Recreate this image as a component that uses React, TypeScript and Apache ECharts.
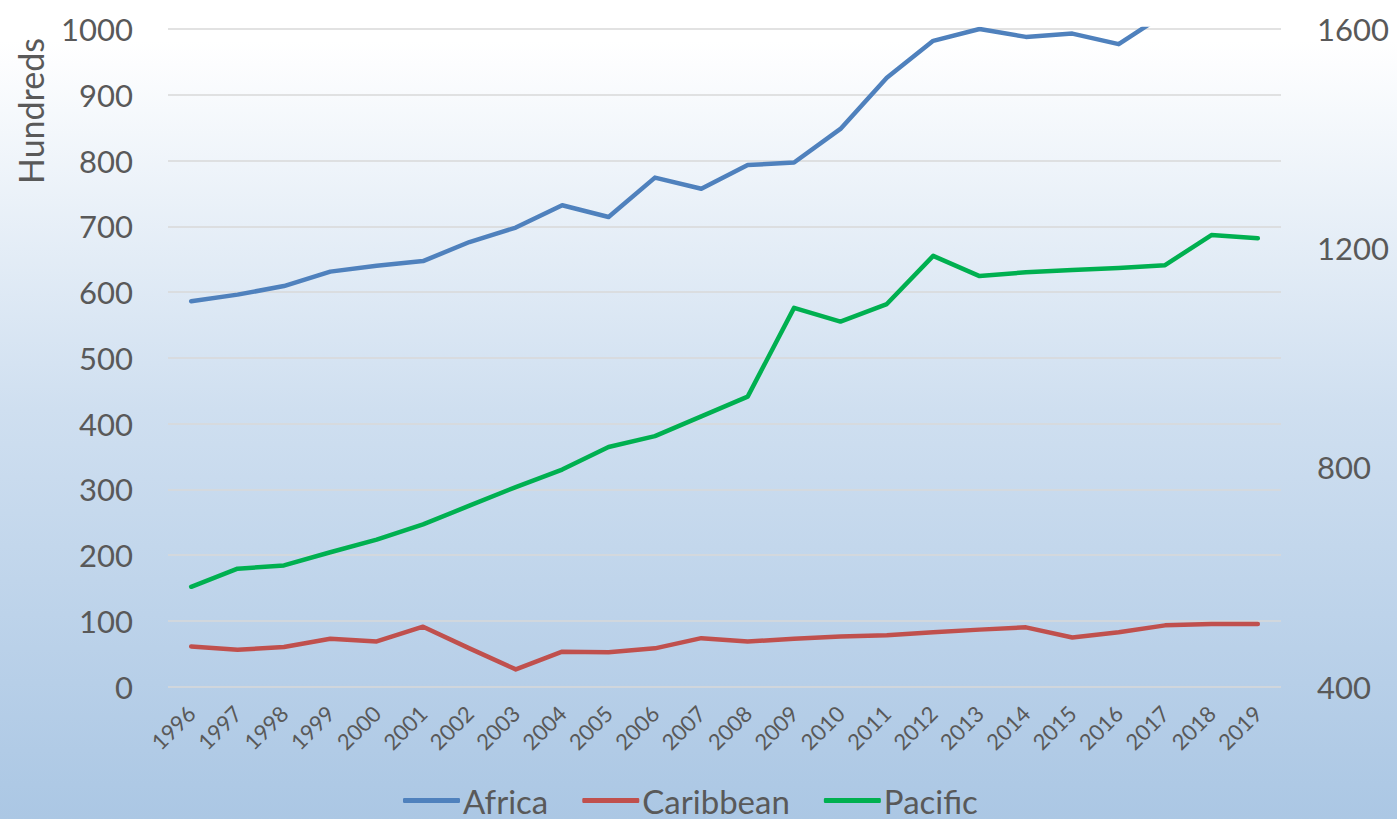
import React, { useEffect, useRef } from "react";
import * as echarts from "echarts";

const years = [
  "1996", "1997", "1998", "1999", "2000", "2001", "2002", "2003", "2004", "2005", "2006", "2007",
  "2008", "2009", "2010", "2011", "2012", "2013", "2014", "2015", "2016", "2017", "2018", "2019",
];

// left axis (Hundreds)
const africa = [586, 596, 609, 631, 640, 647, 676, 698, 732, 714, 774, 757, 793, 797, 848, 926, 982, 1000, 988, 993, 977, 1023, 1050, 1075];
const caribbean = [61, 56, 60, 72.5, 68.5, 91, 58, 26, 53, 52, 58, 73.5, 68.5, 72.5, 76, 78, 82.5, 86.5, 90, 74.5, 82.5, 93, 95, 95];
// right axis
const pacific = [582, 615, 621, 645, 668, 696, 730, 764, 796, 837, 857, 893, 929, 1091, 1066, 1098, 1186, 1149, 1156, 1160, 1164, 1169, 1224, 1218];

const seriesNames = ["Africa", "Caribbean", "Pacific"];
const seriesColors = ["#4f81bd", "#c0504d", "#00b050"];

const FONT = "Lato, 'Open Sans', sans-serif";
const TEXT = "#595959";

export default function App() {
  const ref = useRef<HTMLDivElement>(null);
  useEffect(() => {
    if (!ref.current) return;
    const chart = echarts.init(ref.current, null, { renderer: "svg" });
    const lineStyle = (c: string) => ({ color: c, width: 4.5, cap: "round", join: "round" });
    const plain = (v: number) => String(v);
    chart.setOption({
      animation: false,
      backgroundColor: {
        type: "linear", x: 0, y: 0, x2: 0, y2: 1,
        colorStops: [
          { offset: 0, color: "#ffffff" },
          { offset: 0.05, color: "#ffffff" },
          { offset: 0.5, color: "#cfdff0" },
          { offset: 1, color: "#abc7e4" },
        ],
      },
      textStyle: { fontFamily: FONT },
      grid: { left: 168, top: 29, width: 1113, height: 657.5, containLabel: false },
      legend: {
        data: seriesNames,
        left: 398,
        top: 779,
        icon: "roundRect",
        itemWidth: 57,
        itemHeight: 5,
        itemGap: 34,
        textStyle: { fontFamily: FONT, fontSize: 33, color: TEXT, padding: [0, 0, 0, -2] },
      },
      graphic: [
        {
          type: "text",
          x: 30,
          y: 111,
          rotation: Math.PI / 2,
          style: {
            text: "Hundreds",
            font: `34px ${FONT}`,
            fill: TEXT,
            textAlign: "center",
            textVerticalAlign: "middle",
          },
        },
      ],
      xAxis: {
        type: "category",
        data: years,
        boundaryGap: true,
        axisLine: { show: false },
        axisTick: { show: false },
        axisLabel: { rotate: 45, fontSize: 22, color: TEXT, fontFamily: FONT, margin: 23 },
      },
      yAxis: [
        {
          type: "value",
          min: 0,
          max: 1000,
          interval: 100,
          axisLine: { show: false },
          axisTick: { show: false },
          axisLabel: { fontSize: 31, color: TEXT, fontFamily: FONT, margin: 35, formatter: plain },
          splitLine: { show: true, lineStyle: { color: "#d9d9d9", width: 1.5 } },
        },
        {
          type: "value",
          position: "right",
          min: 400,
          max: 1600,
          interval: 400,
          axisLine: { show: false },
          axisTick: { show: false },
          axisLabel: { fontSize: 31, color: TEXT, fontFamily: FONT, margin: 36, formatter: plain },
          splitLine: { show: false },
        },
      ],
      series: [
        { name: seriesNames[0], type: "line", data: africa, yAxisIndex: 0, symbol: "none", clip: true, color: seriesColors[0], lineStyle: lineStyle(seriesColors[0]) },
        { name: seriesNames[1], type: "line", data: caribbean, yAxisIndex: 0, symbol: "none", clip: true, color: seriesColors[1], lineStyle: lineStyle(seriesColors[1]) },
        { name: seriesNames[2], type: "line", data: pacific, yAxisIndex: 1, symbol: "none", clip: true, color: seriesColors[2], lineStyle: lineStyle(seriesColors[2]) },
      ],
    });
    return () => chart.dispose();
  }, []);
  return <div ref={ref} style={{ position: "fixed", left: 0, top: 0, width: 1397, height: 819 }} />;
}
